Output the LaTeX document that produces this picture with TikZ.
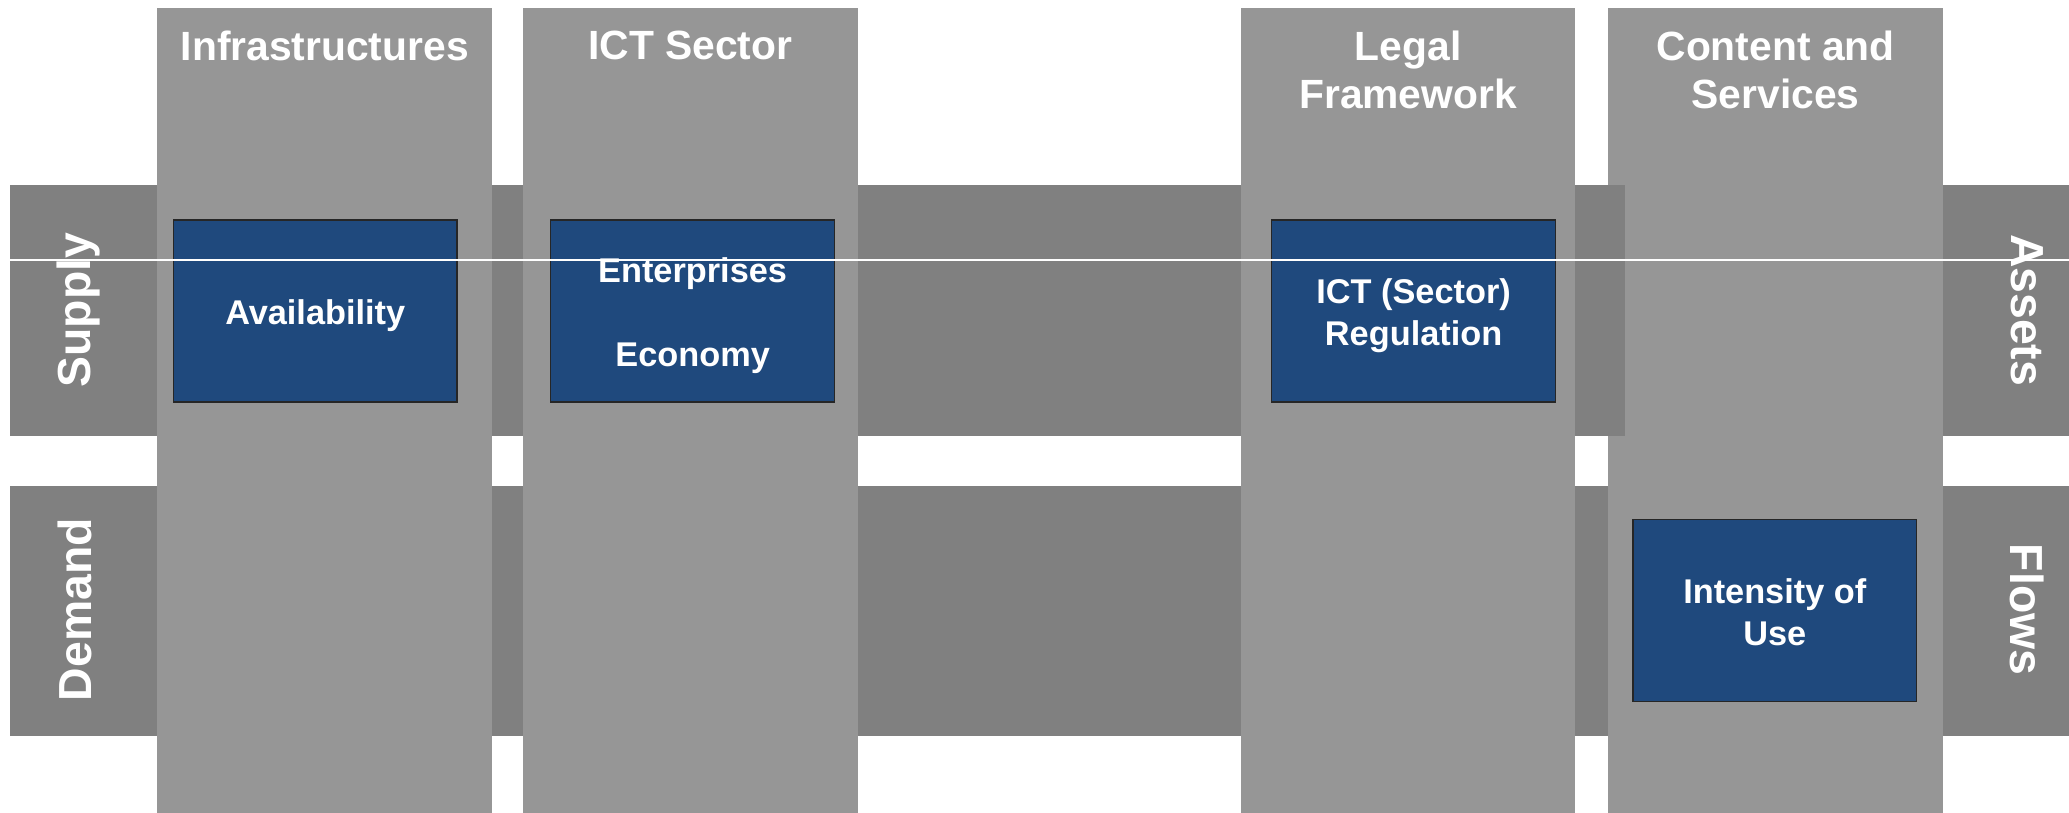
\documentclass[tikz,border=0pt]{standalone}
\usepackage{fontspec}
\setmainfont{Liberation Sans}
\usetikzlibrary{positioning}
\definecolor{colgray}{RGB}{150,150,150}
\definecolor{bandgray}{RGB}{128,128,128}
\definecolor{boxblue}{RGB}{31,73,125}

\begin{document}
\begin{tikzpicture}[column/.style = {fill=colgray, inner sep=0pt, minimum width=5.07cm, minimum height=12.2cm, anchor=north west},
                    band/.style = {fill=bandgray, inner sep=0pt, minimum height=3.8cm, anchor=north west},
                    title/.style = {text=white, inner sep=0pt, anchor=north, align=center, font=\bfseries\fontsize{17.6}{20.8}\selectfont},
                    bluebox/.style = {fill=boxblue, draw=black!85, line width=0.6pt, minimum width=4.3cm, minimum height=2.76cm},
                    boxtext/.style = {text=white, inner sep=0pt, align=center, font=\bfseries\fontsize{14.8}{18.1}\selectfont},
                    side/.style = {text=white, inner sep=0pt, font=\bfseries\fontsize{20}{24}\selectfont}]
    \useasboundingbox (0,0) rectangle (31.36,-12.32);
        % the last column lies under the supply band
        \node[column] (content) at (24.37,-0.12) {};
        \node[band, minimum width=24.48cm] (supply) at (0.148,-2.804) {};
        \node[band, minimum width=24.22cm] (demand) at (0.148,-7.352) {};
        \node[column] (infra) at (2.38,-0.12) {};
        \node[column] (ict) at (7.92,-0.12) {};
        \node[column] (legal) at (18.80,-0.12) {};
        \node[band, minimum width=1.92cm] (assets) at (29.44,-2.804) {};
        \node[band, minimum width=1.92cm] (flows) at (29.44,-7.352) {};
        % titles
        \node[title] (tinfra) at ([yshift=-0.34cm]infra.north) {Infrastructures};
        \node[title] (tict) at ([yshift=-0.34cm]ict.north) {ICT Sector};
        \node[title] (tlegal) at ([yshift=-0.34cm]legal.north) {Legal\\Framework};
        \node[title] (tcontent) at ([yshift=-0.34cm]content.north) {Content and\\Services};
        % row labels
        \node[side, rotate=90] (lsupply) at (1.19,-4.70) {Supply};
        \node[side, rotate=90] (ldemand) at (1.14,-9.24) {Demand};
        \node[side, rotate=-90] (lassets) at (30.72,-4.70) {Assets};
        \node[side, rotate=-90] (lflows) at (30.72,-9.24) {Flows};
        % indicators
        \node[bluebox] (avail) at (4.778,-4.712) {};
        \node[bluebox] (econ) at (10.498,-4.712) {};
        \node[bluebox] (regul) at (21.426,-4.712) {};
        \node[bluebox] (usage) at (26.90,-9.256) {};
        \node[boxtext] (tavail) at ([yshift=-0.07cm]avail) {Availability};
        \node[boxtext] (tecon) at ([yshift=-0.07cm]econ) {Enterprises\\[18.1pt]Economy};
        \node[boxtext] (tregul) at ([yshift=-0.07cm]regul) {ICT (Sector)\\Regulation};
        \node[boxtext] (tusage) at ([yshift=-0.03cm]usage) {Intensity of\\Use};
        \draw[white, line width=0.5pt] (0.148,-3.94) -- (31.36,-3.94);
\end{tikzpicture}
\end{document}
